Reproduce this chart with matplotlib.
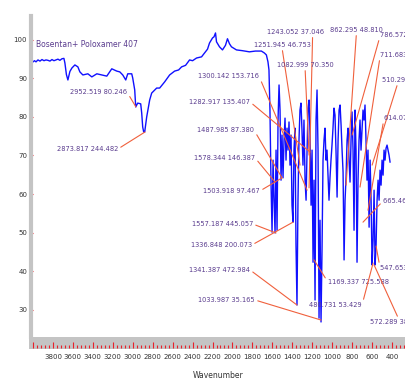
import matplotlib
matplotlib.use("Agg")
import matplotlib.pyplot as plt
from matplotlib.patches import Rectangle
from matplotlib.ticker import MultipleLocator

# IR spectrum, wavenumber (cm-1) vs %T
wn_high = [4000, 3985, 3970, 3950, 3930, 3910, 3890, 3870, 3850, 3830, 3810, 3790,
           3770, 3750, 3730, 3710, 3690, 3680, 3665, 3650, 3630, 3610, 3580, 3550,
           3530, 3500, 3450, 3410, 3360, 3310, 3260, 3210, 3160, 3130, 3100, 3070,
           3050, 3010, 3000, 2980, 2970, 2950, 2920, 2910, 2900, 2890, 2880, 2860,
           2830, 2810, 2760, 2730, 2680, 2630, 2580, 2540, 2510, 2470, 2430, 2400,
           2360, 2310, 2280, 2250, 2230, 2200, 2185, 2170, 2160, 2130, 2100, 2070,
           2060, 2050, 2030, 2010, 1960, 1900, 1830, 1770, 1710, 1680, 1660]
t_high = [94.3, 94.6, 94.3, 94.8, 94.5, 94.9, 94.6, 94.8, 94.7, 94.5, 94.9, 94.6,
          94.8, 95.0, 94.7, 95.1, 95.2, 94.0, 91.0, 89.6, 91.8, 92.7, 93.5, 93.0,
          91.7, 90.9, 91.2, 90.4, 91.2, 90.9, 90.6, 92.5, 91.9, 91.7, 90.9, 89.6,
          91.2, 91.2, 90.1, 87.0, 82.6, 83.6, 83.4, 81.0, 77.4, 76.1, 76.1, 80.0,
          84.4, 86.2, 87.5, 87.5, 89.1, 90.9, 91.9, 92.2, 93.0, 93.4, 94.8, 94.6,
          95.3, 95.6, 96.6, 97.6, 99.2, 100.5, 100.8, 101.8, 99.5, 98.2, 97.4, 98.6,
          99.5, 100.3, 99.0, 98.2, 97.4, 97.2, 96.9, 97.1, 97.1, 96.6, 96.1]

wn_fp = [1644, 1634, 1624, 1614, 1603, 1593, 1583, 1573, 1563, 1553, 1543, 1533,
         1523, 1513, 1503, 1493, 1483, 1473, 1463, 1453, 1443, 1433, 1423, 1413,
         1403, 1393, 1383, 1373, 1363, 1353, 1343, 1333, 1323, 1313, 1303, 1293,
         1283, 1272, 1262, 1252, 1242, 1232, 1222, 1212, 1202, 1192, 1182, 1172,
         1162, 1152, 1142, 1132, 1122, 1112, 1102, 1092, 1082, 1072, 1062, 1052,
         1042, 1032, 1022, 1012, 1002, 992, 982, 972, 962, 951, 941, 931,
         921, 911, 901, 891, 881, 871, 861, 851, 841, 831, 821, 811,
         801, 791, 781, 771, 761, 751, 741, 731, 721, 711, 701, 691,
         681, 671, 661, 651, 641, 630, 620, 610, 600, 590, 580, 570,
         560, 550, 540, 530, 520, 510, 500, 490, 480, 470, 460, 450,
         440, 430, 420]
t_fp = [94.3, 92.2, 81.8, 63.6, 50.1, 68.8, 58.4, 49.9, 71.4, 50.6, 79.2, 88.3,
        81.8, 63.6, 75.3, 64.2, 74.0, 79.7, 68.8, 77.1, 71.4, 78.7, 67.5, 75.3,
        57.1, 52.7, 71.4, 77.1, 46.8, 31.2, 58.4, 74.0, 81.8, 83.6, 76.6, 67.5,
        79.2, 63.6, 58.4, 71.4, 82.3, 84.4, 75.3, 57.1, 71.4, 42.3, 63.6, 32.5,
        79.2, 87.0, 71.4, 27.8, 53.2, 26.8, 45.5, 68.8, 74.0, 77.1, 68.8, 71.4,
        64.9, 58.4, 64.2, 68.8, 72.7, 77.1, 82.3, 80.5, 71.4, 59.2, 74.0, 81.8,
        83.1, 77.9, 71.4, 65.7, 42.9, 58.4, 64.4, 74.0, 77.1, 68.8, 63.1, 74.0,
        81.3, 71.4, 50.6, 81.8, 71.4, 42.3, 63.6, 74.0, 79.2, 71.4, 76.6, 81.8,
        79.2, 83.1, 74.0, 63.6, 71.4, 51.4, 68.8, 58.4, 41.6, 48.1, 61.0, 41.6,
        46.8, 58.4, 63.6, 58.4, 66.2, 62.3, 68.8, 64.9, 71.4, 68.8, 71.9, 72.7,
        71.4, 70.1, 68.3]

# peak labels: text, tip (wn, %T), text anchor (wn, %T), alignment, leader start
peak_labels = ["2952.519 80.246", "2873.817 244.482", "1300.142 153.716",
               "1282.917 135.407", "1487.985 87.380", "1578.344 146.387",
               "1503.918 97.467", "1557.187 445.057", "1336.848 200.073",
               "1341.387 472.984", "1033.987 35.165", "1251.945 46.753",
               "1243.052 37.046", "1082.999 70.350", "862.295 48.810",
               "786.572 12.807", "711.683 123.812", "510.299 56.041",
               "614.079 77.326", "665.460 352.113", "547.653 184.517",
               "1169.337 725.588", "480.731 53.429", "572.289 380.267"]
tip_wn = [2968, 2877, 1252, 1222, 1503, 1573, 1503, 1563, 1393, 1353, 1112, 1323,
          1232, 1232, 861, 801, 721, 600, 641, 691, 560, 1182, 590, 580]
tip_t = [82.6, 76.1, 61.0, 70.9, 64.2, 63.1, 64.2, 49.9, 52.7, 31.2, 27.3, 67.5,
         61.6, 70.1, 62.3, 75.3, 61.8, 67.5, 55.8, 52.7, 46.5, 42.9, 42.1, 41.6]
text_wn = [3058, 3148, 1734, 1824, 1784, 1774, 1724, 1794, 1804, 1824, 1774, 1503,
           1082, 1272, 1022, 520, 520, 500, 480, 490, 520, 1042, 701, 620]
text_t = [86.5, 71.7, 90.6, 83.9, 76.6, 69.4, 60.8, 52.2, 46.8, 40.3, 32.5, 98.7,
          102.1, 93.5, 102.6, 101.3, 96.1, 89.6, 79.7, 58.2, 40.8, 37.1, 31.2, 26.8]
text_ha = (["right"] * 11 + ["center", "right", "center", "left"] + ["left"] * 7 +
           ["right", "left"])
leader_from = ([(1, 0.5)] * 11 + [(0.5, 0), (0.8, 0), (0.5, 0), (0.5, 0)] +
               [(0, 0.3), (0, 0.2), (0.3, 0), (0, 0.5), (0, 0.5), (0, 0.5),
                (0, 0.5), (1, 0.5), (0.5, 1)])

LABEL_COLOR = "#5a3c8e"
LEADER_COLOR = "#f0603c"
BAND_GRAY = "#c4c4c4"
TICK_RED = "#e8202a"

plt.rcParams["font.family"] = ["DejaVu Sans"]
fig = plt.figure(figsize=(4.06, 3.87), dpi=100)
ax = fig.add_axes([31 / 406, 50 / 387, 1 - 31 / 406, 321 / 387])

# gray band under the plot holding the x ticks
fig.add_artist(Rectangle((29 / 406, 38 / 387), 1, 12 / 387, transform=fig.transFigure,
                         facecolor=BAND_GRAY, edgecolor="none", zorder=-1))

ax.plot(wn_high + wn_fp, t_high + t_fp, color="#1010ff", lw=1.0)

ax.set_xlim(4020, 260)
ax.set_ylim(22.9, 106.2)

for side in ("top", "right"):
    ax.spines[side].set_visible(False)
ax.spines["left"].set_color(BAND_GRAY)
ax.spines["left"].set_linewidth(3)
ax.spines["bottom"].set_position(("outward", 8))
ax.spines["bottom"].set_visible(False)

ax.xaxis.set_major_locator(MultipleLocator(200))
ax.xaxis.set_minor_locator(MultipleLocator(40))
ax.set_yticks(range(30, 101, 10))
ax.tick_params(axis="x", which="major", direction="in", length=4.3, width=0.8,
               color=TICK_RED, labelsize=5, labelcolor="#333333", pad=4)
ax.tick_params(axis="x", which="minor", direction="in", length=2.2, width=0.8,
               color=TICK_RED)
ax.tick_params(axis="y", direction="inout", length=2.5, width=0.8, color=TICK_RED,
               labelsize=5, labelcolor="#333333", pad=1.5)
ax.set_xticklabels(["" if v >= 3900 else f"{v:.0f}" for v in ax.get_xticks()])

ax.set_xlabel("Wavenumber", fontsize=5.5, color="#333333")
ax.xaxis.set_label_coords(0.5, -0.105)
ax.xaxis.label.set_va("top")

ax.text(3970, 98.7, "Bosentan+ Poloxamer 407", fontsize=5.5, color=LABEL_COLOR,
        va="center", ha="left")

for label, tw, tt, xw, xt, ha, rel in zip(peak_labels, tip_wn, tip_t, text_wn, text_t,
                                         text_ha, leader_from):
    ax.annotate(label, xy=(tw, tt), xytext=(xw, xt), ha=ha, va="center",
                fontsize=4.8, color=LABEL_COLOR, annotation_clip=False,
                arrowprops=dict(arrowstyle="-", color=LEADER_COLOR, lw=0.8,
                                relpos=rel, shrinkA=0, shrinkB=0))

fig.savefig("out.png", dpi=100)
